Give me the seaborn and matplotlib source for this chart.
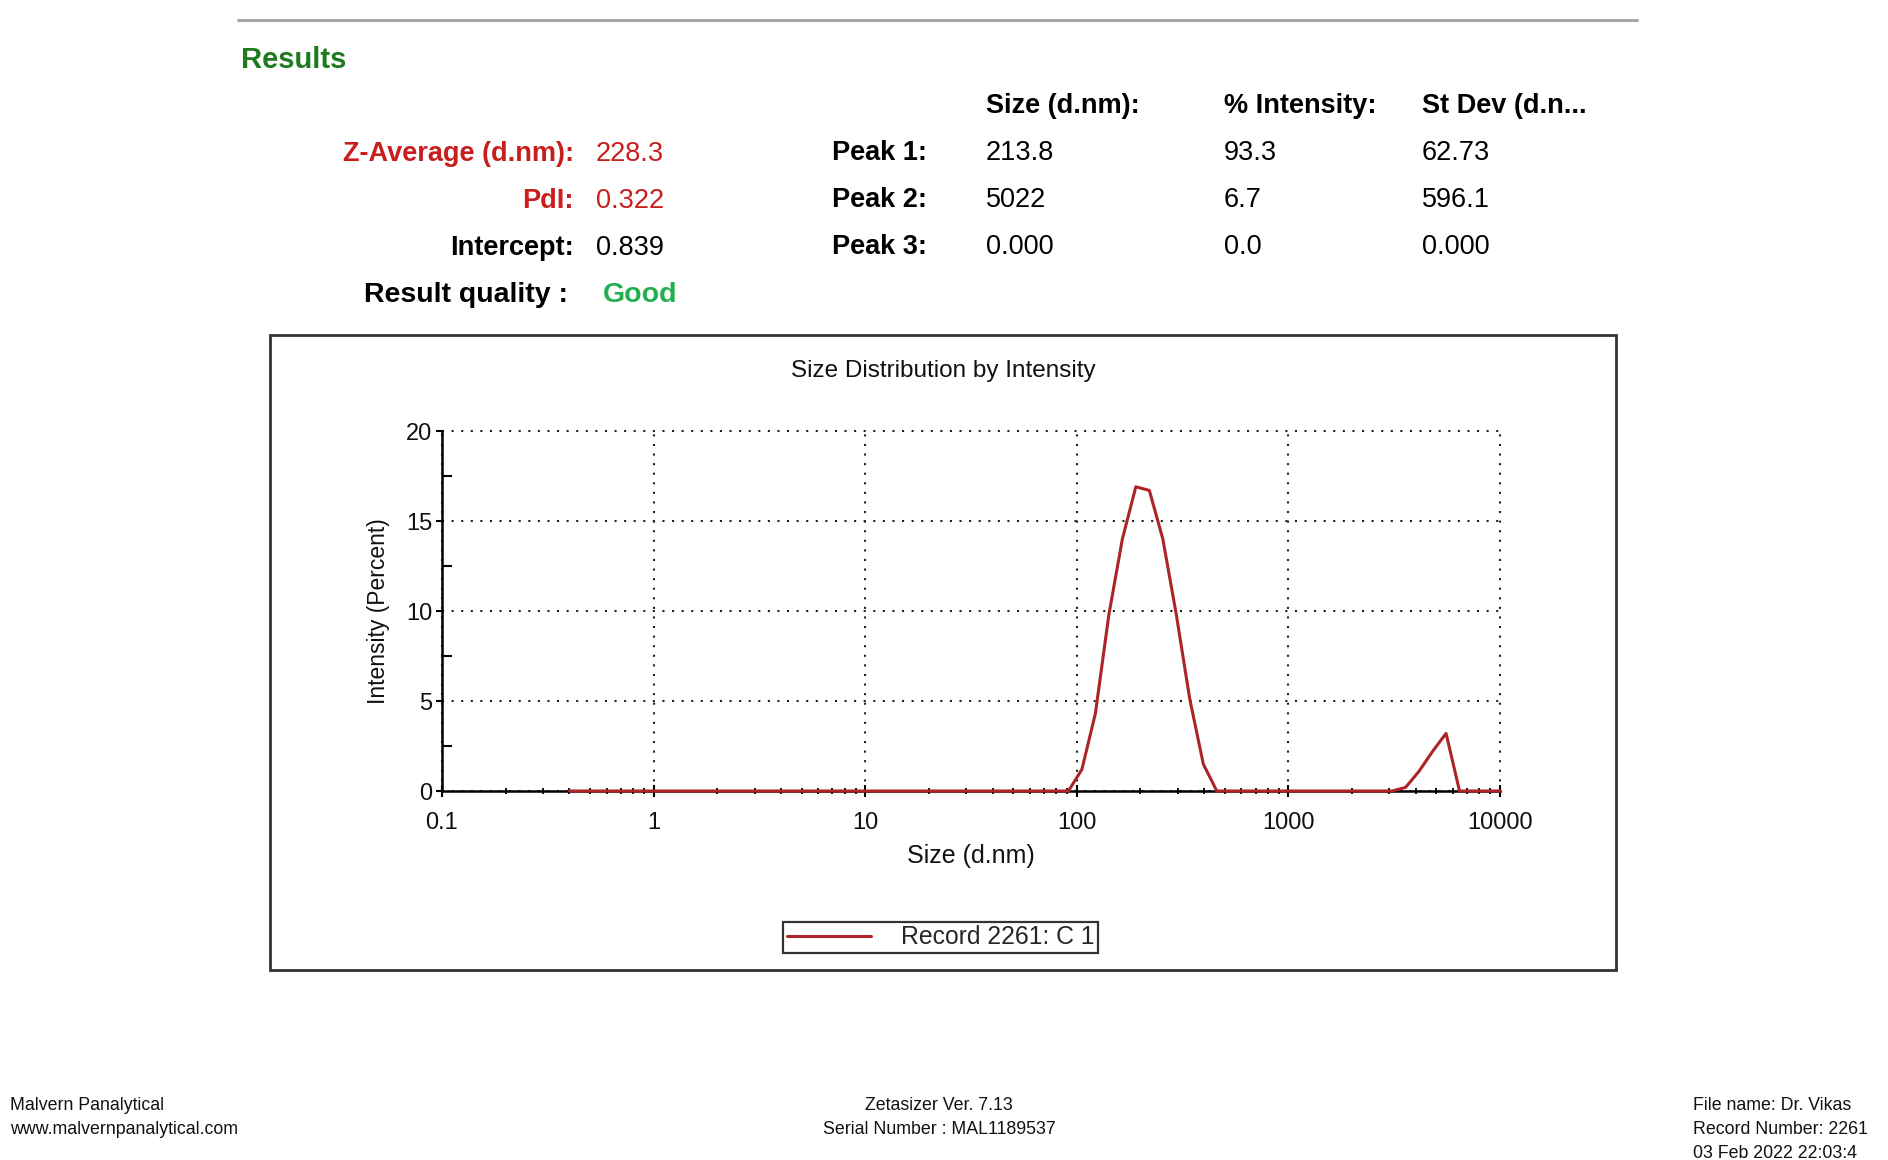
import numpy as np
import pandas as pd
import matplotlib
matplotlib.use("Agg")
import matplotlib.pyplot as plt
from matplotlib.lines import Line2D
from matplotlib.patches import Rectangle
from matplotlib.ticker import FixedLocator, FixedFormatter, LogLocator, NullFormatter, MultipleLocator
import seaborn as sns

# ---------------- data ----------------
size_nm = [0.4, 0.4632, 0.5365, 0.6213, 0.7195, 0.8332, 0.9649, 1.117, 1.294, 1.499,
           1.736, 2.010, 2.328, 2.696, 3.122, 3.615, 4.187, 4.849, 5.615, 6.503,
           7.531, 8.721, 10.10, 11.70, 13.54, 15.69, 18.17, 21.04, 24.36, 28.21,
           32.67, 37.84, 43.82, 50.75, 58.77, 68.06, 78.82, 91.28, 105.7, 122.4,
           141.8, 164.2, 190.1, 220.2, 255.0, 295.3, 342.0, 396.1, 458.7, 531.2,
           615.1, 712.4, 825.0, 955.4, 1106, 1281, 1484, 1718, 1990, 2305,
           2669, 3091, 3580, 4145, 4801, 5560, 6439, 7456, 8635, 10000]
intensity_pct = [0.0] * 38 + [1.2, 4.3, 9.8, 14.0, 16.9, 16.7, 14.0, 9.8, 5.1, 1.5] \
    + [0.0] * 14 + [0.2, 1.1, 2.2, 3.2] + [0.0] * 4
x_ticks = [0.1, 1, 10, 100, 1000, 10000]
x_tick_labels = ["0.1", "1", "10", "100", "1000", "10000"]
y_ticks = [0, 5, 10, 15, 20]
record_label = "Record 2261: C 1"

header_cols = ["Size (d.nm):", "% Intensity:", "St Dev (d.n..."]
peak_names = ["Peak 1:", "Peak 2:", "Peak 3:"]
peak_size = ["213.8", "5022", "0.000"]
peak_intensity = ["93.3", "6.7", "0.0"]
peak_stdev = ["62.73", "596.1", "0.000"]
summary_labels = ["Z-Average (d.nm):", "PdI:", "Intercept:"]
summary_values = ["228.3", "0.322", "0.839"]

df = pd.DataFrame({"size": size_nm, "intensity": intensity_pct})

# ---------------- style ----------------
sns.set_theme(style="white")
plt.rcParams["font.family"] = ["Liberation Sans", "DejaVu Sans"]

W, H = 1888, 1160
fig = plt.figure(figsize=(W / 100, H / 100), dpi=100)
fig.patch.set_facecolor("white")

def fx(px):
    return px / W

def fy(py):
    return 1 - py / H

RED = "#c81e1e"
LINE_RED = "#ad2428"

# top separator line
fig.add_artist(Line2D([fx(238), fx(1637)], [fy(20), fy(20)], color="#a8a8a8", lw=2.2))

# header block
fig.text(fx(241), fy(60), "Results", color="#1d7a1d", fontsize=21, fontweight="bold", va="center", ha="left")
rows_y = [154, 201, 248]
colors_lab = [RED, RED, "black"]
colors_val = [RED, RED, "black"]
for lab, val, y, cl, cv in zip(summary_labels, summary_values, rows_y, colors_lab, colors_val):
    fig.text(fx(574), fy(y), lab, color=cl, fontsize=19.5, fontweight="bold", ha="right", va="center")
    fig.text(fx(596), fy(y), val, color=cv, fontsize=19.5, ha="left", va="center")
fig.text(fx(568), fy(295), "Result quality :", color="black", fontsize=20.5, fontweight="bold", ha="right", va="center")
fig.text(fx(603), fy(295), "Good", color="#22b04f", fontsize=20.5, fontweight="bold", ha="left", va="center")

col_x = [986, 1224, 1422]
for cx, h in zip(col_x, header_cols):
    fig.text(fx(cx), fy(106), h, color="black", fontsize=19.5, fontweight="bold", ha="left", va="center")
for i, (pn, ps, pi, pd_) in enumerate(zip(peak_names, peak_size, peak_intensity, peak_stdev)):
    y = [153, 200, 247][i]
    fig.text(fx(927), fy(y), pn, color="black", fontsize=19.5, fontweight="bold", ha="right", va="center")
    for cx, v in zip(col_x, [ps, pi, pd_]):
        fig.text(fx(cx), fy(y), v, color="black", fontsize=19.5, ha="left", va="center")

# chart frame
fig.add_artist(Rectangle((fx(270), fy(970)), fx(1616) - fx(270), fy(335) - fy(970),
                         fill=False, edgecolor="#333333", lw=2.0))

# title
fig.text(fx(943), fy(371), "Size Distribution by Intensity", fontsize=17.5, ha="center", va="center", color="#111111")

# ---------------- axes ----------------
ax = fig.add_axes([fx(442), fy(791), fx(1500) - fx(442), fy(431) - fy(791)])
ax.set_facecolor("white")
sns.lineplot(data=df, x="size", y="intensity", ax=ax, color=LINE_RED, lw=2.2,
             label=record_label, zorder=5, clip_on=False, legend=False)
ax.set_xscale("log")
ax.set_xlim(x_ticks[0], x_ticks[-1])
ax.set_ylim(y_ticks[0], y_ticks[-1])

ax.xaxis.set_major_locator(FixedLocator(x_ticks))
ax.xaxis.set_major_formatter(FixedFormatter(x_tick_labels))
ax.xaxis.set_minor_locator(LogLocator(base=10, subs=np.arange(2, 10)))
ax.xaxis.set_minor_formatter(NullFormatter())
ax.yaxis.set_major_locator(FixedLocator(y_ticks))
ax.yaxis.set_minor_locator(MultipleLocator(2.5))

for s in ["top", "right"]:
    ax.spines[s].set_visible(False)
for s in ["left", "bottom"]:
    ax.spines[s].set_color("black")
    ax.spines[s].set_linewidth(1.8)
    ax.spines[s].set_zorder(4)

ax.tick_params(axis="x", which="major", direction="inout", length=8, width=1.5, color="black",
               labelsize=17, pad=11, labelcolor="#111111")
ax.tick_params(axis="x", which="minor", direction="inout", length=5, width=1.3, color="black")
ax.tick_params(axis="y", which="major", direction="out", length=4, width=1.5, color="black",
               labelsize=17, pad=3, labelcolor="#111111")
ax.tick_params(axis="y", which="minor", direction="in", length=7, width=1.5, color="black")
ax.tick_params(bottom=True, left=True, which="both")

ax.grid(True, which="major", axis="both", color="#222222", lw=1.5, ls=(0, (1, 3.6)))
ax.set_axisbelow(True)
for gl in ax.get_xgridlines() + ax.get_ygridlines():
    gl.set_clip_on(False)

ax.set_xlabel("Size (d.nm)", fontsize=18, color="#111111", va="center")
ax.xaxis.set_label_coords(0.5, -(856 - 791) / 360)
ax.set_ylabel("Intensity (Percent)", fontsize=16.5, color="#111111", va="center")
ax.yaxis.set_label_coords(-(442 - 378) / 1058, 0.5)

# legend
handles, labels = ax.get_legend_handles_labels()
if not handles:
    handles = [Line2D([], [], color=LINE_RED, lw=2.2)]
    labels = [record_label]
leg = fig.legend(handles, labels, loc="center", bbox_to_anchor=(fx(940.5), fy(937.5)),
                 bbox_transform=fig.transFigure, fontsize=17.8, frameon=True, fancybox=False,
                 handlelength=3.4, handletextpad=1.2, borderpad=0.15, borderaxespad=0)
leg.get_frame().set_edgecolor("black")
leg.get_frame().set_linewidth(1.6)

# footer
ffs = 12.8
fig.text(fx(10), fy(1105), "Malvern Panalytical", fontsize=ffs, ha="left", va="center", color="#111111")
fig.text(fx(10), fy(1129), "www.malvernpanalytical.com", fontsize=ffs, ha="left", va="center", color="#111111")
fig.text(fx(939), fy(1105), "Zetasizer Ver. 7.13", fontsize=ffs, ha="center", va="center", color="#111111")
fig.text(fx(939), fy(1129), "Serial Number : MAL1189537", fontsize=ffs, ha="center", va="center", color="#111111")
fig.text(fx(1693), fy(1105), "File name: Dr. Vikas", fontsize=ffs, ha="left", va="center", color="#111111")
fig.text(fx(1693), fy(1130), "Record Number: 2261", fontsize=ffs, ha="left", va="center", color="#111111")
fig.text(fx(1693), fy(1153), "03 Feb 2022 22:03:4", fontsize=ffs, ha="left", va="center", color="#111111")

fig.savefig("out.png", dpi=100, facecolor="white")
